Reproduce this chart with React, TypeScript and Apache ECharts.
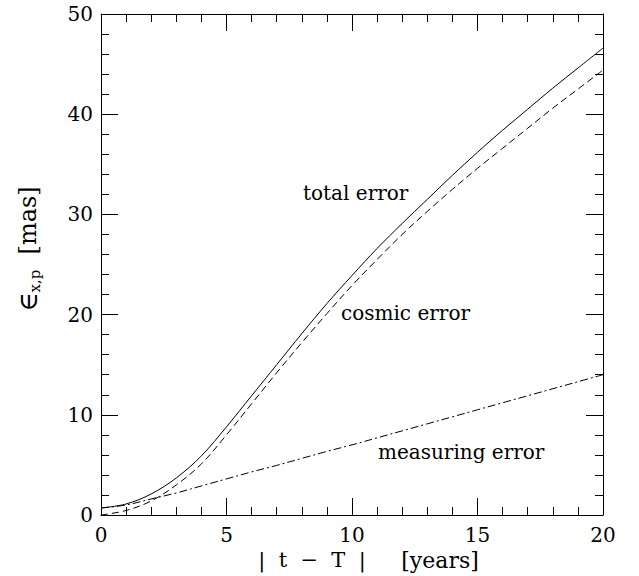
import React, { useEffect, useRef } from "react";
import * as echarts from "echarts";

const years = [0, 1, 2, 3, 4, 5, 6, 7, 8, 9, 10, 11, 12, 13, 14, 15, 16, 17, 18, 19, 20];
const totalError = [0.7, 1.1, 2.1, 3.7, 5.9, 8.8, 11.9, 15.0, 18.1, 21.1, 23.9, 26.6, 29.1, 31.5, 33.9, 36.2, 38.4, 40.5, 42.6, 44.6, 46.6];
const cosmicError = [0.0, 0.45, 1.4, 3.0, 5.1, 8.0, 11.1, 14.2, 17.2, 20.1, 22.9, 25.5, 28.0, 30.3, 32.5, 34.6, 36.6, 38.6, 40.6, 42.5, 44.4];
const measuringError = [0.7, 1.0, 1.6, 2.2, 2.9, 3.6, 4.3, 4.95, 5.65, 6.35, 7.0, 7.7, 8.4, 9.1, 9.8, 10.5, 11.2, 11.9, 12.6, 13.3, 14.0];
const xTicks = { min: 0, max: 20, interval: 5 };
const yTicks = { min: 0, max: 50, interval: 10 };
const curveLabels = ["total error", "cosmic error", "measuring error"];

const FONT = "DejaVu Serif";

export default function App() {
  const ref = useRef<HTMLDivElement>(null);
  useEffect(() => {
    if (!ref.current) return;
    const chart = echarts.init(ref.current, undefined, { renderer: "svg" });
    const pairs = (ys: number[]) => years.map((x, i) => [x, ys[i]]);
    const axisBase = (labels: boolean, margin: number) => ({
      type: "value" as const,
      axisLine: { show: true, onZero: false, lineStyle: { color: "#000", width: 1 } },
      axisTick: { show: true, inside: true, length: 17, lineStyle: { color: "#000", width: 1 } },
      minorTick: { show: true, splitNumber: 5, length: 8, lineStyle: { color: "#000", width: 1 } },
      splitLine: { show: false },
      minorSplitLine: { show: false },
      axisLabel: {
        show: labels,
        margin,
        color: "#000",
        fontSize: 20,
        fontFamily: FONT,
      },
    });
    const lineSeries = (name: string, ys: number[], type: any) => ({
      type: "line",
      name,
      data: pairs(ys),
      smooth: 0.35,
      symbol: "none",
      lineStyle: { color: "#000", width: 1, type },
    });
    chart.setOption({
      animation: false,
      backgroundColor: "#fff",
      grid: { left: 101, top: 14, right: 36, bottom: 61, containLabel: false },
      xAxis: [
        { ...axisBase(true, 10), ...xTicks, position: "bottom" },
        { ...axisBase(false, 0), ...xTicks, position: "top" },
      ],
      yAxis: [
        { ...axisBase(true, 8), ...yTicks, position: "left" },
        { ...axisBase(false, 0), ...yTicks, position: "right" },
      ],
      series: [
        lineSeries(curveLabels[0], totalError, "solid"),
        lineSeries(curveLabels[1], cosmicError, [7, 4]),
        lineSeries(curveLabels[2], measuringError, [8, 3, 2, 3]),
      ],
      graphic: [
        {
          type: "text",
          left: 303,
          top: 183,
          style: { text: curveLabels[0], fontSize: 20, fontFamily: FONT, fill: "#000" },
        },
        {
          type: "text",
          left: 341,
          top: 303,
          style: { text: curveLabels[1], fontSize: 20, fontFamily: FONT, fill: "#000" },
        },
        {
          type: "text",
          left: 378,
          top: 442,
          style: { text: curveLabels[2], fontSize: 20, fontFamily: FONT, fill: "#000" },
        },
        {
          type: "text",
          x: 312,
          y: 560,
          style: {
            text: "|  t  −  T  |",
            fontSize: 21,
            fontFamily: FONT,
            fill: "#000",
            align: "center",
            verticalAlign: "middle",
          },
        },
        {
          type: "text",
          x: 440,
          y: 560,
          style: {
            text: "[years]",
            fontSize: 22,
            fontFamily: FONT,
            fill: "#000",
            align: "center",
            verticalAlign: "middle",
          },
        },
        {
          type: "text",
          x: 28,
          y: 249,
          rotation: Math.PI / 2,
          style: {
            text: "{e|∈}{s|x,p}{m|  [mas]}",
            align: "center",
            verticalAlign: "middle",
            fill: "#000",
            rich: {
              e: { fontSize: 26, fontFamily: FONT, lineHeight: 28, verticalAlign: "middle", fill: "#000" },
              s: { fontSize: 15, fontFamily: FONT, lineHeight: 18, verticalAlign: "bottom", fill: "#000" },
              m: { fontSize: 24, fontFamily: FONT, lineHeight: 28, verticalAlign: "middle", fill: "#000" },
            },
          },
        },
      ],
    });
    return () => chart.dispose();
  }, []);
  return (
    <div
      ref={ref}
      style={{ position: "fixed", left: 0, top: 0, width: 639, height: 576 }}
    />
  );
}
